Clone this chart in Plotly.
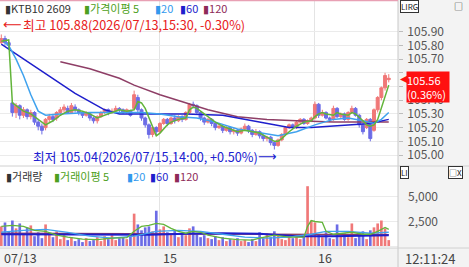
import plotly.graph_objects as go

# ---------------- data ----------------
# bar index 0..105 (10-min bars); day starts: 15 -> idx 43, 16 -> idx 85
opens = [105.82,105.85,105.82,105.38,105.31,105.36,105.29,105.33,105.28,105.31,
         105.24,105.21,105.20,105.26,105.28,105.27,105.31,105.33,105.34,105.31,
         105.35,105.33,105.31,105.29,105.30,105.27,105.25,105.28,105.31,105.33,
         105.31,105.32,105.34,105.33,105.31,105.32,105.34,105.42,105.33,105.27,
         105.22,105.15,105.20,105.17,105.23,105.26,105.23,105.27,105.25,105.28,
         105.26,105.31,105.37,105.36,105.31,105.27,105.24,105.26,105.23,105.20,
         105.21,105.18,105.20,105.17,105.18,105.16,105.19,105.21,105.18,105.15,
         105.17,105.14,105.12,105.13,105.09,105.07,105.11,105.15,105.20,105.22,
         105.20,105.24,105.26,105.23,105.25,105.27,105.37,105.29,105.31,105.27,
         105.26,105.34,105.28,105.30,105.26,105.31,105.34,105.29,105.22,105.20,
         105.26,105.18,105.33,105.42,105.49,105.55]
closes = [105.85,105.82,105.80,105.31,105.36,105.29,105.33,105.28,105.31,105.24,
          105.21,105.18,105.26,105.28,105.26,105.31,105.33,105.35,105.31,105.36,
          105.33,105.31,105.29,105.31,105.27,105.25,105.28,105.31,105.33,105.31,
          105.32,105.34,105.33,105.31,105.33,105.29,105.44,105.33,105.27,105.22,
          105.15,105.20,105.17,105.23,105.26,105.23,105.27,105.25,105.28,105.26,
          105.31,105.37,105.36,105.31,105.27,105.24,105.26,105.23,105.20,105.21,
          105.18,105.20,105.17,105.18,105.16,105.19,105.21,105.18,105.15,105.17,
          105.14,105.12,105.13,105.09,105.07,105.11,105.15,105.20,105.22,105.20,
          105.24,105.26,105.23,105.25,105.27,105.37,105.29,105.31,105.27,105.26,
          105.34,105.28,105.30,105.26,105.31,105.34,105.29,105.22,105.17,105.26,
          105.12,105.33,105.42,105.49,105.58,105.56]
highs = [105.88,105.87,105.84,105.40,105.38,105.37,105.35,105.34,105.33,105.32,
         105.26,105.23,105.27,105.30,105.30,105.32,105.35,105.37,105.36,105.38,
         105.37,105.34,105.32,105.32,105.31,105.28,105.29,105.32,105.34,105.34,
         105.34,105.36,105.35,105.34,105.34,105.33,105.47,105.44,105.34,105.28,
         105.23,105.21,105.21,105.24,105.27,105.27,105.28,105.29,105.29,105.29,
         105.32,105.38,105.39,105.37,105.32,105.28,105.27,105.27,105.24,105.23,
         105.22,105.21,105.21,105.20,105.19,105.20,105.23,105.22,105.19,105.19,
         105.18,105.15,105.14,105.14,105.10,105.12,105.16,105.21,105.23,105.23,
         105.25,105.27,105.27,105.26,105.28,105.39,105.38,105.33,105.32,105.28,
         105.36,105.35,105.31,105.31,105.32,105.36,105.35,105.30,105.23,105.27,
         105.27,105.34,105.43,105.50,105.60,105.59]
lows = [105.81,105.80,105.78,105.28,105.27,105.26,105.27,105.26,105.26,105.22,
        105.18,105.15,105.18,105.24,105.24,105.25,105.29,105.31,105.30,105.30,
        105.31,105.29,105.27,105.28,105.25,105.23,105.23,105.27,105.30,105.29,
        105.30,105.31,105.31,105.30,105.30,105.28,105.33,105.31,105.25,105.20,
        105.12,105.13,105.14,105.16,105.22,105.21,105.22,105.23,105.24,105.24,
        105.25,105.30,105.34,105.30,105.25,105.22,105.23,105.21,105.18,105.19,
        105.16,105.17,105.15,105.15,105.14,105.15,105.18,105.16,105.13,105.14,
        105.12,105.10,105.10,105.07,105.04,105.06,105.10,105.14,105.19,105.19,
        105.19,105.23,105.22,105.22,105.24,105.26,105.27,105.28,105.26,105.24,
        105.25,105.27,105.27,105.25,105.25,105.30,105.28,105.20,105.15,105.19,
        105.10,105.17,105.31,105.40,105.47,105.53]

# price moving averages: (bar index, value) vertices
ma5_idx = [0,2,3,4,6,8,10,12,14,16,18,20,22,24,26,28,30,32,34,36,37,38,39,40,41,42,43,44,45,46,48,50,51,52,53,54,56,58,60,62,64,66,68,70,72,74,75,76,78,80,82,84,85,86,87,88,90,91,92,94,95,96,98,99,100,101,102,103,104,105]
ma5_val = [105.83,105.84,105.38,105.36,105.32,105.30,105.26,105.22,105.25,105.29,105.32,105.33,105.32,105.30,105.27,105.29,105.31,105.33,105.32,105.33,105.39,105.38,105.34,105.27,105.20,105.14,105.16,105.19,105.22,105.24,105.26,105.27,105.33,105.35,105.34,105.32,105.28,105.24,105.21,105.19,105.17,105.18,105.17,105.16,105.13,105.10,105.10,105.12,105.17,105.21,105.24,105.25,105.28,105.30,105.31,105.30,105.29,105.31,105.30,105.29,105.31,105.30,105.25,105.22,105.21,105.22,105.26,105.34,105.43,105.51]
ma20_idx = [1,2,4,6,8,10,12,16,24,32,38,43,48,53,58,64,70,75,80,85,90,94,98,101,103,105]
ma20_val = [105.82,105.80,105.70,105.58,105.44,105.32,105.29,105.30,105.31,105.31,105.31,105.30,105.28,105.27,105.24,105.19,105.16,105.14,105.17,105.22,105.26,105.27,105.25,105.23,105.26,105.31]
ma60_idx = [0,10,20,28,32,40,50,60,66,72,78,84,90,96,100,105]
ma60_val = [105.81,105.63,105.45,105.33,105.30,105.30,105.30,105.29,105.26,105.23,105.20,105.20,105.21,105.22,105.23,105.26]
ma120_idx = [16,24,32,36,43,50,56,64,72,80,90,105]
ma120_val = [105.68,105.63,105.56,105.51,105.44,105.38,105.33,105.28,105.26,105.25,105.24,105.24]

volumes = [2000,2400,1500,2600,1800,2300,1200,1900,2100,1000,
           1400,800,2200,1200,900,1500,700,1100,600,900,
           500,700,400,800,500,600,900,500,1000,700,
           1100,600,800,900,700,1300,3300,2200,1600,1900,
           2000,1500,3600,1700,2000,1400,1200,1600,900,1300,
           1100,1800,2000,1200,900,1100,800,700,1000,600,
           900,500,700,600,800,500,600,400,700,500,
           1400,800,1300,900,1500,1100,700,600,900,800,
           1000,700,1100,6100,2600,2400,1200,900,1400,800,
           700,2200,1000,1300,900,2300,800,1100,1500,700,
           1600,1900,2300,2600,1800,600]
vma5_idx = [0,3,6,9,12,15,18,22,26,30,34,36,38,40,42,44,46,48,50,52,54,56,60,64,68,70,74,78,82,83,84,85,87,88,90,92,95,98,100,102,104,105]
vma5_val = [2000,2100,2000,1600,1500,1100,900,700,650,800,850,1500,2000,2100,2300,2200,1800,1500,1300,1500,1400,1100,800,650,600,800,1100,900,900,2000,2600,2500,2400,1500,1200,1300,1400,1200,1200,1500,1900,1700]
vma20_idx = [0,6,12,18,24,30,36,42,48,54,60,66,72,78,84,88,94,100,105]
vma20_val = [1400,1600,1700,1400,1000,800,1000,1500,1600,1500,1200,900,800,900,1200,1500,1500,1300,1400]
vma60_idx = [0,20,30,40,50,60,70,80,90,100,105]
vma60_val = [1200,1200,1150,1150,1250,1300,1250,1000,1000,1050,1100]
vma120_idx = [0,30,60,90,105]
vma120_val = [1300,1250,1200,1150,1150]

price_ticks = [105.0,105.1,105.2,105.3,105.4,105.7,105.8,105.9]   # 105.5/105.6 hidden under marker
price_grid = [105.0,105.1,105.2,105.3,105.4,105.5,105.6,105.7,105.8,105.9]
vol_ticks = [0,2500,5000]
day_idx = [0,43,85]
day_text = ["07/13","15","16"]
last_price = 105.56
last_pct = "(0.36%)"
legend_top = [("▮KTB10 2609", "#333333"), ("▮가격이평 5", "#4CA020"), ("▮20", "#3399EE"),
              ("▮60", "#1E1ECC"), ("▮120", "#8E2A58")]
legend_vol = [("▮거래량", "#333333"), ("▮거래이평 5", "#4CA020"), ("▮20", "#3399EE"),
              ("▮60", "#1E1ECC"), ("▮120", "#8E2A58")]
high_text = "최고 105.88(2026/07/13,15:30, -0.30%)"
low_text = "최저 105.04(2026/07/15,14:00, +0.50%)"
clock_text = "12:11:24"

# ---------------- style ----------------
W, H = 469, 267
FONT = "Noto Sans CJK KR, DejaVu Sans"
RED = "#F07878"
BLUE = "#6C6CE6"
C5, C20, C60, C120 = "#62B43A", "#3FA2EE", "#1E1ECC", "#8E3E66"
PX = 398 / W          # right edge of plot area (paper)
STEP = 3.69           # pixels per bar
X0 = 1.3              # pixel of bar 0

def py(p):            # paper y from pixel row
    return 1 - p / H

fig = go.Figure()

fig.add_trace(go.Candlestick(
    x=list(range(len(opens))), open=opens, high=highs, low=lows, close=closes,
    increasing=dict(line=dict(color=RED, width=1), fillcolor=RED),
    decreasing=dict(line=dict(color=BLUE, width=1), fillcolor=BLUE),
    whiskerwidth=0, xaxis="x", yaxis="y", showlegend=False, hoverinfo="skip"))
for xs, ys, c, w in [(ma120_idx, ma120_val, C120, 1.5), (ma60_idx, ma60_val, C60, 1.5),
                     (ma20_idx, ma20_val, C20, 1.5), (ma5_idx, ma5_val, C5, 1.5)]:
    fig.add_trace(go.Scatter(x=xs, y=ys, mode="lines", line=dict(color=c, width=w),
                             xaxis="x", yaxis="y", showlegend=False, hoverinfo="skip"))

vcol = [RED if c >= o else BLUE for o, c in zip(opens, closes)]
fig.add_trace(go.Bar(x=list(range(len(volumes))), y=volumes, marker=dict(color=vcol, line=dict(width=0)),
                     width=0.72, xaxis="x2", yaxis="y2", showlegend=False, hoverinfo="skip"))
for xs, ys, c, w in [(vma120_idx, vma120_val, C120, 1.3), (vma60_idx, vma60_val, C60, 2),
                     (vma20_idx, vma20_val, C20, 1.3), (vma5_idx, vma5_val, C5, 1.3)]:
    fig.add_trace(go.Scatter(x=xs, y=ys, mode="lines", line=dict(color=c, width=w),
                             xaxis="x2", yaxis="y2", showlegend=False, hoverinfo="skip"))

xr = [-X0 / STEP, (398 - X0) / STEP]
xcommon = dict(range=xr, domain=[0, PX], showticklabels=False, ticks="",
               tickvals=day_idx[1:], showgrid=True, gridcolor="#E4E4E4", gridwidth=1,
               zeroline=False, showline=False, rangeslider=dict(visible=False), fixedrange=True)
yr = [105 - 10 / 137, 105 + 155 / 137]
fig.update_layout(
    xaxis=dict(anchor="y", **xcommon),
    xaxis2=dict(anchor="y2", **xcommon),
    yaxis=dict(domain=[py(165), py(0)], range=yr,
               side="right", anchor="free", position=447 / W, tickvals=price_ticks,
               tickformat=".2f", ticklabelposition="inside", ticks="",
               tickfont=dict(family=FONT, size=12, color="#555555"),
               showgrid=False, zeroline=False, showline=False),
    yaxis3=dict(domain=[py(165), py(0)], range=yr, overlaying="y", side="right",
                anchor="free", position=PX, tickvals=price_grid, showticklabels=False,
                ticks="outside", ticklen=4, tickcolor="#BDBDBD",
                showgrid=True, gridcolor="#EBEBEB", zeroline=False, showline=False),
    yaxis2=dict(domain=[py(248), py(167)], range=[-2 * 102, 79 * 102],
                side="right", anchor="free", position=441 / W, tickvals=vol_ticks,
                tickformat=",d", ticklabelposition="inside", ticks="",
                tickfont=dict(family=FONT, size=12, color="#555555"),
                showgrid=True, gridcolor="#EBEBEB", zeroline=False, showline=False),
    width=W, height=H, margin=dict(l=0, r=0, t=0, b=0),
    paper_bgcolor="white", plot_bgcolor="white", showlegend=False,
    boxgap=0.1, boxgroupgap=0.1,
)
fig.add_trace(go.Scatter(x=[None], y=[None], xaxis="x", yaxis="y3", showlegend=False, hoverinfo="skip"))

shapes = []
shapes.append(dict(type="rect", xref="paper", yref="paper", x0=PX, x1=1, y0=0, y1=1,
                   fillcolor="#F3F3F3", line=dict(width=0), layer="below"))
shapes.append(dict(type="rect", xref="paper", yref="paper", x0=0, x1=PX, y0=0, y1=py(248),
                   fillcolor="#F3F3F3", line=dict(width=0), layer="below"))
shapes.append(dict(type="line", xref="paper", yref="paper", x0=PX, x1=PX, y0=0, y1=1,
                   line=dict(color="#C8C8C8", width=1)))
for yy in [166, 248]:
    shapes.append(dict(type="line", xref="paper", yref="paper", x0=0, x1=1, y0=py(yy), y1=py(yy),
                       line=dict(color="#D0D0D0", width=1)))
shapes.append(dict(type="line", xref="paper", yref="paper", x0=0, x1=PX, y0=py(0.5), y1=py(0.5),
                   line=dict(color="#E8A0B4", width=1.5)))
fig.update_layout(shapes=shapes)

ann = []
def A(text, x, y, xa="left", ya="middle", size=12, color="#333", family=FONT, **kw):
    ann.append(dict(text=text, xref="paper", yref="paper", x=x / W, y=py(y), xanchor=xa,
                    yanchor=ya, showarrow=False, font=dict(family=family, size=size, color=color), **kw))

for (t, c), x in zip(legend_top, [3, 82, 153, 178, 201]):
    A(t, x, 8, color=c, size=11)
for (t, c), x in zip(legend_vol, [4, 52, 125, 148, 172]):
    A(t, x, 176, color=c, size=11)
A("⟵", 1, 24.5, color="#E82020", family="DejaVu Sans", size=13)
A(high_text, 21, 24.5, color="#E82020", size=12.7)
A(low_text, 31, 156, color="#2020D0", size=12.7)
A("⟶", 256, 156, color="#2020D0", family="DejaVu Sans", size=13)
for i, t in zip(day_idx, day_text):
    ann.append(dict(text=t, xref="x2", yref="paper", x=i, y=py(257), xanchor="left", yanchor="middle",
                    xshift=1, showarrow=False, font=dict(family=FONT, size=12.5, color="#444")))
A(clock_text, 430, 258, xa="center", color="#444", size=13)
A("LIRG", 400, 6, size=8, color="#222", bordercolor="#333", borderwidth=1, borderpad=0, bgcolor="#FFFFFF")
A("□", 458, 6, xa="center", size=9, color="#222")
A("LI", 400, 172, size=8, color="#222", bordercolor="#333", borderwidth=1, borderpad=0, bgcolor="#FFFFFF")
A("□X", 455, 172, xa="center", size=8, color="#222", bordercolor="#333", borderwidth=1, borderpad=0, bgcolor="#FFFFFF")
# last price marker
ann.append(dict(text=f"{last_price:.2f}<br>{last_pct}", xref="paper", yref="y", x=406 / W, y=last_price,
                xanchor="left", yanchor="top", yshift=7, showarrow=False, bgcolor="#FF1010", width=42,
                align="left", font=dict(family=FONT, size=11, color="white"), borderpad=0))
ann.append(dict(text="◀", xref="paper", yref="y", x=398 / W, y=last_price, xanchor="left",
                yanchor="middle", showarrow=False, font=dict(family="DejaVu Sans", size=10, color="#FF1010")))
fig.update_layout(annotations=ann)

fig.write_html("out.html")
